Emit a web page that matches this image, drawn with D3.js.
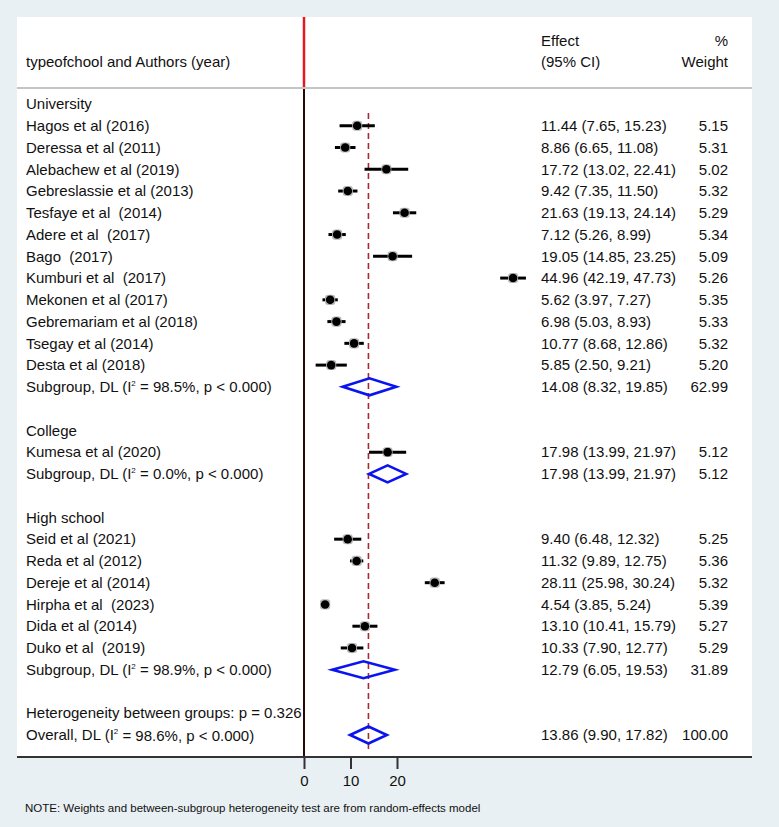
<!DOCTYPE html>
<html><head><meta charset="utf-8">
<script src="https://cdn.jsdelivr.net/npm/d3@7"></script>
<style>body{margin:0;background:#e8f0f3;} svg{display:block;font-family:"Liberation Sans",Arial,sans-serif;} text{white-space:pre;}</style>
</head><body><svg id="c" width="779" height="827"></svg>
<script>
// ---- data ----
const groupNames = ["University", "College", "High school"];
const uniStudies = ["Hagos et al (2016)","Deressa et al (2011)","Alebachew et al (2019)","Gebreslassie et al (2013)","Tesfaye et al  (2014)","Adere et al  (2017)","Bago  (2017)","Kumburi et al  (2017)","Mekonen et al (2017)","Gebremariam et al (2018)","Tsegay et al (2014)","Desta et al (2018)"];
const uniES = [11.44, 8.86, 17.72, 9.42, 21.63, 7.12, 19.05, 44.96, 5.62, 6.98, 10.77, 5.85];
const uniLo = [7.65, 6.65, 13.02, 7.35, 19.13, 5.26, 14.85, 42.19, 3.97, 5.03, 8.68, 2.50];
const uniHi = [15.23, 11.08, 22.41, 11.50, 24.14, 8.99, 23.25, 47.73, 7.27, 8.93, 12.86, 9.21];
const uniW  = [5.15, 5.31, 5.02, 5.32, 5.29, 5.34, 5.09, 5.26, 5.35, 5.33, 5.32, 5.20];
const colStudies = ["Kumesa et al (2020)"];
const colES = [17.98], colLo = [13.99], colHi = [21.97], colW = [5.12];
const hsStudies = ["Seid et al (2021)","Reda et al (2012)","Dereje et al (2014)","Hirpha et al  (2023)","Dida et al (2014)","Duko et al  (2019)"];
const hsES = [9.40, 11.32, 28.11, 4.54, 13.10, 10.33];
const hsLo = [6.48, 9.89, 25.98, 3.85, 10.41, 7.90];
const hsHi = [12.32, 12.75, 30.24, 5.24, 15.79, 12.77];
const hsW  = [5.25, 5.36, 5.32, 5.39, 5.27, 5.29];
const subI2 = ["98.5%", "0.0%", "98.9%"];
const subES = [14.08, 17.98, 12.79];
const subLo = [8.32, 13.99, 6.05];
const subHi = [19.85, 21.97, 19.53];
const subW  = [62.99, 5.12, 31.89];
const overall = {es: 13.86, lo: 9.90, hi: 17.82, w: 100.00, i2: "98.6%"};
const hetP = "0.326";
const xTicks = [0, 10, 20];

// ---- build rows ----
const studyGroups = [
  {names: uniStudies, es: uniES, lo: uniLo, hi: uniHi, w: uniW},
  {names: colStudies, es: colES, lo: colLo, hi: colHi, w: colW},
  {names: hsStudies, es: hsES, lo: hsLo, hi: hsHi, w: hsW}
];
const rows = [];
studyGroups.forEach((g, gi) => {
  rows.push({type: "head", label: groupNames[gi]});
  g.names.forEach((n, i) => rows.push({type: "study", label: n, es: g.es[i], lo: g.lo[i], hi: g.hi[i], w: g.w[i]}));
  rows.push({type: "sub", i2: subI2[gi], es: subES[gi], lo: subLo[gi], hi: subHi[gi], w: subW[gi]});
  rows.push({type: "blank"});
});
rows.push({type: "het"});
rows.push({type: "overall", i2: overall.i2, es: overall.es, lo: overall.lo, hi: overall.hi, w: overall.w});

const svg = d3.select("#c");
const panel = {x0: 17, x1: 752, y0: 17, y1: 757};
const x = d3.scaleLinear().domain([0, 10]).range([304, 350.5]);
const y = d3.scaleLinear().domain([0, rows.length - 1]).range([104, 735]);
const fmt = d3.format(".2f");
const fs = 15;

svg.append("rect").attr("x", panel.x0).attr("y", panel.y0).attr("width", panel.x1 - panel.x0).attr("height", panel.y1 - panel.y0).attr("fill", "#fff");

// header
svg.append("text").attr("x", 26).attr("y", 62).attr("dy", "0.35em").attr("font-size", fs).attr("fill", "#111").text("typeofchool and Authors (year)");
svg.append("text").attr("x", 541).attr("y", 41).attr("dy", "0.35em").attr("font-size", fs).attr("fill", "#111").text("Effect");
svg.append("text").attr("x", 541).attr("y", 62).attr("dy", "0.35em").attr("font-size", fs).attr("fill", "#111").text("(95% CI)");
svg.append("text").attr("x", 728).attr("y", 41).attr("dy", "0.35em").attr("font-size", fs).attr("text-anchor", "end").attr("fill", "#111").text("%");
svg.append("text").attr("x", 728).attr("y", 62).attr("dy", "0.35em").attr("font-size", fs).attr("text-anchor", "end").attr("fill", "#111").text("Weight");
svg.append("line").attr("x1", panel.x0).attr("x2", panel.x1).attr("y1", 88).attr("y2", 88).attr("stroke", "#c4c4c4").attr("stroke-width", 2);
svg.append("line").attr("x1", x(0)).attr("x2", x(0)).attr("y1", panel.y0).attr("y2", 87).attr("stroke", "#e8191c").attr("stroke-width", 2.5);

// null line
svg.append("line").attr("x1", x(0)).attr("x2", x(0)).attr("y1", 89).attr("y2", panel.y1).attr("stroke", "#2a0606").attr("stroke-width", 2);
// overall dashed line
svg.append("line").attr("x1", x(overall.es)).attr("x2", x(overall.es)).attr("y1", 113).attr("y2", 752)
  .attr("stroke", "#a8292e").attr("stroke-width", 1.6).attr("stroke-dasharray", "6,4");

function labelText(sel, r, yy) {
  const t = sel.append("text").attr("x", 26).attr("y", yy).attr("dy", "0.35em").attr("font-size", fs).attr("fill", "#111");
  if (r.type === "head" || r.type === "study") t.text(r.label);
  else if (r.type === "het") t.text("Heterogeneity between groups: p = " + hetP);
  else if (r.type === "sub" || r.type === "overall") {
    t.append("tspan").text((r.type === "sub" ? "Subgroup" : "Overall") + ", DL (I");
    t.append("tspan").attr("font-size", 8).attr("dy", "-0.8em").text("2");
    t.append("tspan").attr("dy", "0.45em").text(" = " + r.i2 + ", p < 0.000)");
  }
}

rows.forEach((r, i) => {
  const yy = y(i);
  labelText(svg, r, yy);
  if (r.type === "study") {
    svg.append("line").attr("x1", x(r.lo)).attr("x2", x(r.hi)).attr("y1", yy).attr("y2", yy).attr("stroke", "#000").attr("stroke-width", 3);
    const s = Math.sqrt(r.w) * 4.4;
    svg.append("rect").attr("x", x(r.es) - s / 2).attr("y", yy - s / 2).attr("width", s).attr("height", s).attr("rx", 3).attr("fill", "#b8b8b8");
    svg.append("circle").attr("cx", x(r.es)).attr("cy", yy).attr("r", 4.3).attr("fill", "#000");
  }
  if (r.type === "sub" || r.type === "overall") {
    const h = 8.5;
    const pts = [[x(r.lo), yy], [x(r.es), yy - h], [x(r.hi), yy], [x(r.es), yy + h]];
    svg.append("path").attr("d", d3.line()(pts) + "Z").attr("fill", "none").attr("stroke", "#0a14f0").attr("stroke-width", 2.6).attr("stroke-linejoin", "miter");
  }
  if (r.es !== undefined) {
    svg.append("text").attr("x", 541).attr("y", yy).attr("dy", "0.35em").attr("font-size", fs).attr("fill", "#111")
      .text(fmt(r.es) + " (" + fmt(r.lo) + ", " + fmt(r.hi) + ")");
    svg.append("text").attr("x", 728).attr("y", yy).attr("dy", "0.35em").attr("font-size", fs).attr("text-anchor", "end").attr("fill", "#111")
      .text(fmt(r.w));
  }
});

// axis
svg.append("line").attr("x1", panel.x0).attr("x2", panel.x1).attr("y1", panel.y1).attr("y2", panel.y1).attr("stroke", "#333").attr("stroke-width", 2);
const axis = d3.axisBottom(x).tickValues(xTicks).tickFormat(d3.format("d")).tickSize(12).tickPadding(6);
const ag = svg.append("g").attr("transform", `translate(0,${panel.y1})`).call(axis);
ag.select(".domain").remove();
ag.selectAll(".tick line").attr("stroke", "#333").attr("stroke-width", 2);
ag.selectAll(".tick text").attr("font-size", fs).attr("fill", "#111").attr("font-family", "Liberation Sans, Arial, sans-serif");

svg.append("text").attr("x", 25).attr("y", 808).attr("dy", "0.35em").attr("font-size", 11.5).attr("fill", "#111")
  .text("NOTE: Weights and between-subgroup heterogeneity test are from random-effects model");
</script></body></html>
